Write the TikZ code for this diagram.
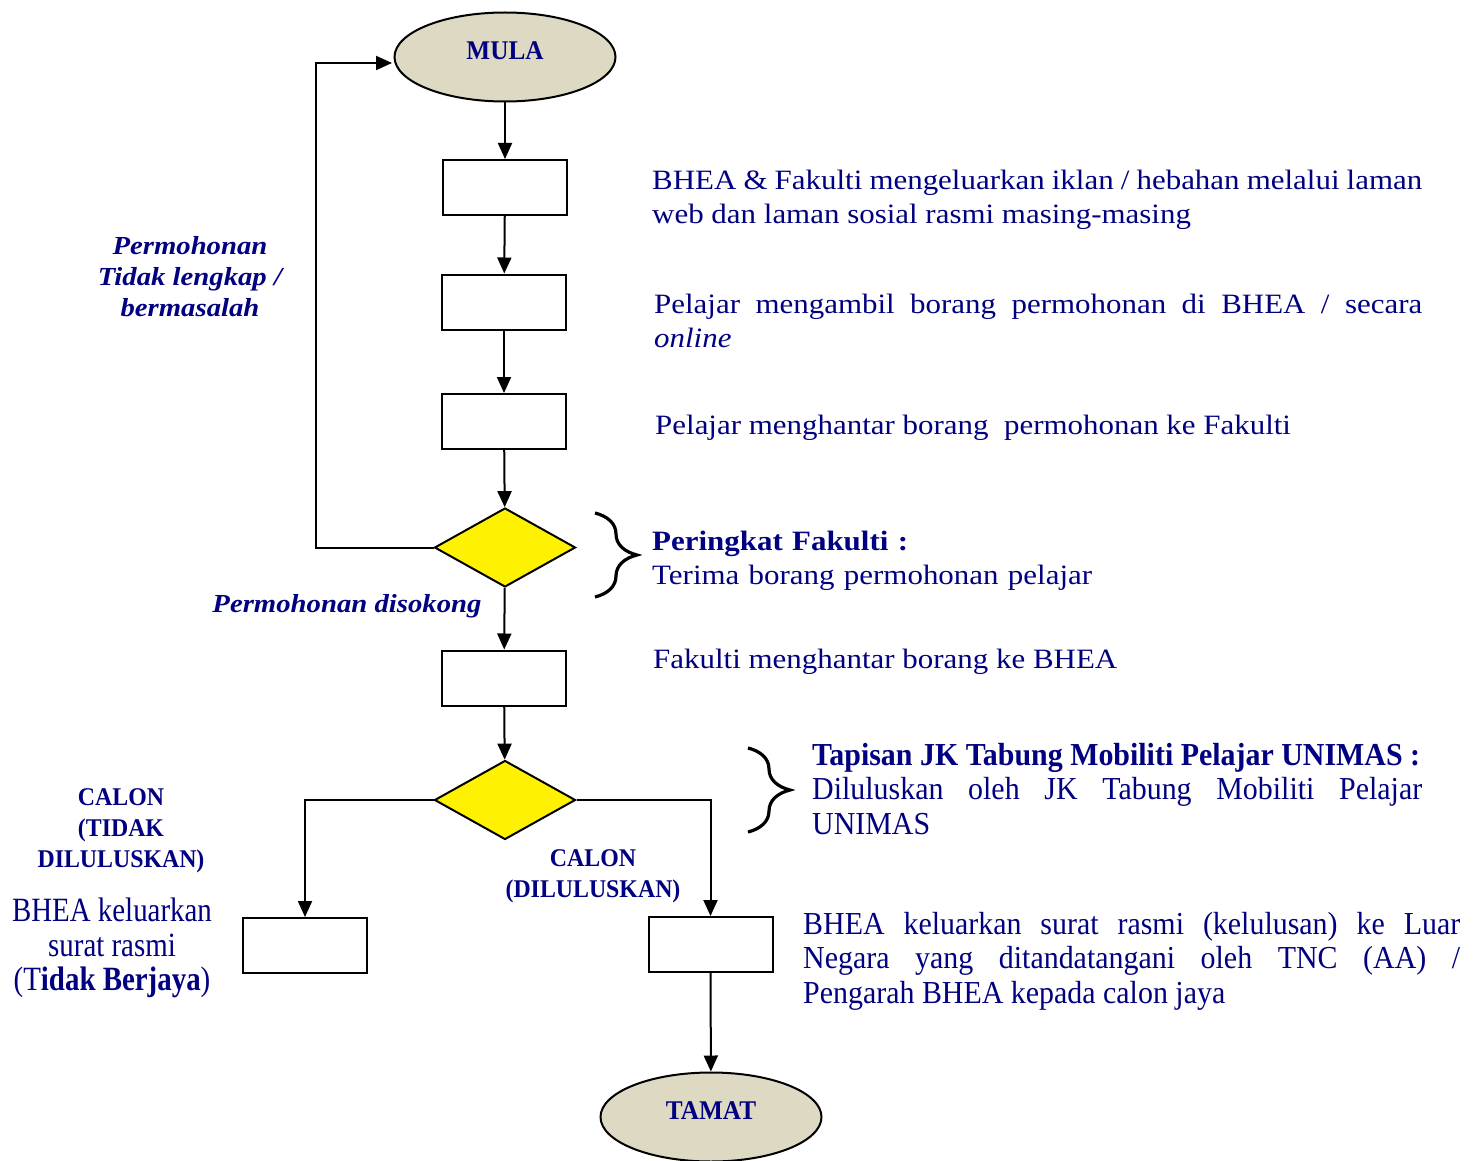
\documentclass[tikz,border=0pt]{standalone}
\usepackage{fontspec}
\setmainfont{Liberation Serif}[FakeStretch=1.105]
\newfontfamily\narrowfont{Liberation Serif}[FakeStretch=0.935]
\newfontfamily\tightfont{Liberation Serif}[FakeStretch=0.85]
\usetikzlibrary{shapes.geometric,arrows.meta,decorations.pathreplacing}

\definecolor{navy}{RGB}{0,0,128}
\definecolor{khaki}{RGB}{221,217,195}

\tikzset{
  terminal/.style = {ellipse, draw, line width=2pt, fill=khaki, minimum width=221pt,
    minimum height=89pt, inner sep=0pt, text depth=13pt, text=navy,
    font=\narrowfont\fontsize{27}{30}\selectfont\bfseries},
  process/.style = {rectangle, draw, line width=2pt, minimum width=124pt,
    minimum height=55pt, inner sep=0pt},
  decision/.style = {diamond, draw, line width=2pt, fill=yellow, minimum width=141pt,
    minimum height=79pt, inner sep=0pt},
  flow/.style = {line width=2pt, -{Triangle[length=16pt,width=14pt]}},
  curly/.style = {line width=3.2pt, decorate, decoration={brace, amplitude=42pt}},
  note/.style = {anchor=base west, inner sep=0pt, text=navy, align=justify,
    font=\fontsize{28}{34}\selectfont},
  slim/.style = {anchor=base west, inner sep=0pt, text=navy, align=justify,
    font=\narrowfont\fontsize{32}{34.5}\selectfont},
  tag/.style = {inner sep=0pt, text=navy, align=center,
    font=\narrowfont\fontsize{25.5}{31}\selectfont\bfseries},
  slanted/.style = {tag, font=\fontsize{26}{31}\selectfont\bfseries\itshape}
}

\begin{document}
\begin{tikzpicture}[x=1pt, y=-1pt]

\useasboundingbox (0,0) rectangle (1480,1161);

% flow chart
\node[terminal] (mula) at (505,57) {MULA};
\node[process] (iklan) at (505,187.5) {};
\node[process] (ambil) at (504,302) {};
\node[process] (hantar) at (504,421.5) {};
\node[decision] (fakulti) at (505,547.5) {};
\node[process] (kebhea) at (504,678) {};
\node[decision] (tapisan) at (505,800) {};
\node[process] (gagal) at (305,945.5) {};
\node[process] (lulus) at (710.5,944.5) {};
\node[terminal] (tamat) at (711,1117) {TAMAT};

\coordinate (balik) at (316,547.5);
\coordinate (masuk) at (392,63);

\draw[flow] (mula) -- (iklan);
\draw[flow] (iklan) -- (ambil);
\draw[flow] (ambil) -- (hantar);
\draw[flow] (hantar) -- (fakulti);
\draw[flow] (fakulti) -- (kebhea);
\draw[flow] (kebhea) -- (tapisan);
\draw[flow] (fakulti.west) -- (balik) |- (masuk);
\draw[flow] (tapisan.west) -| (gagal.north);
\draw[flow] (tapisan.east) -| (lulus.north);
\draw[flow] (lulus) -- (tamat);

% braces
\draw[curly] (595,513) -- (595,597);
\draw[curly] (748,748) -- (748,832);

% texts on the right
\node[note, text width=770pt] (t1) at (652,190)
  {BHEA \& Fakulti mengeluarkan iklan / hebahan melalui laman\linebreak web dan laman sosial rasmi masing-masing};
\node[note, text width=768pt] (t2) at (654,313)
  {Pelajar mengambil borang permohonan di BHEA / secara\linebreak \textit{online}};
\node[note] (t3) at (655,434) {Pelajar menghantar borang\ \ permohonan ke Fakulti};
\node[note, text width=600pt, align=left] (t4) at (652,550)
  {\textbf{Peringkat Fakulti :}\\Terima borang permohonan pelajar};
\node[note] (t5) at (653,668) {Fakulti menghantar borang ke BHEA};
\node[slim, text width=610pt] (t6) at (812,765)
  {\textbf{Tapisan JK Tabung Mobiliti Pelajar UNIMAS :}\newline
   Diluluskan oleh JK Tabung Mobiliti Pelajar\linebreak UNIMAS};
\node[slim, text width=657pt] (t7) at (803,934)
  {BHEA keluarkan surat rasmi (kelulusan) ke Luar\linebreak Negara yang ditandatangani oleh TNC (AA) /\linebreak Pengarah BHEA kepada calon jaya};

% texts on the left
\node[slanted] (l1) at (190,277) {Permohonan\\Tidak lengkap /\\bermasalah};
\node[slanted] (l2) at (347,606) {Permohonan disokong};
\node[tag] (l3) at (121,831) {CALON\\(TIDAK\\DILULUSKAN)};
\node[tag] (l5) at (593,876) {CALON\\(DILULUSKAN)};
\node[tag, font=\tightfont\fontsize{34}{34.5}\selectfont] (l4) at (112,948)
  {BHEA keluarkan\\surat rasmi\\(T\textbf{idak Berjaya})};

\end{tikzpicture}
\end{document}
